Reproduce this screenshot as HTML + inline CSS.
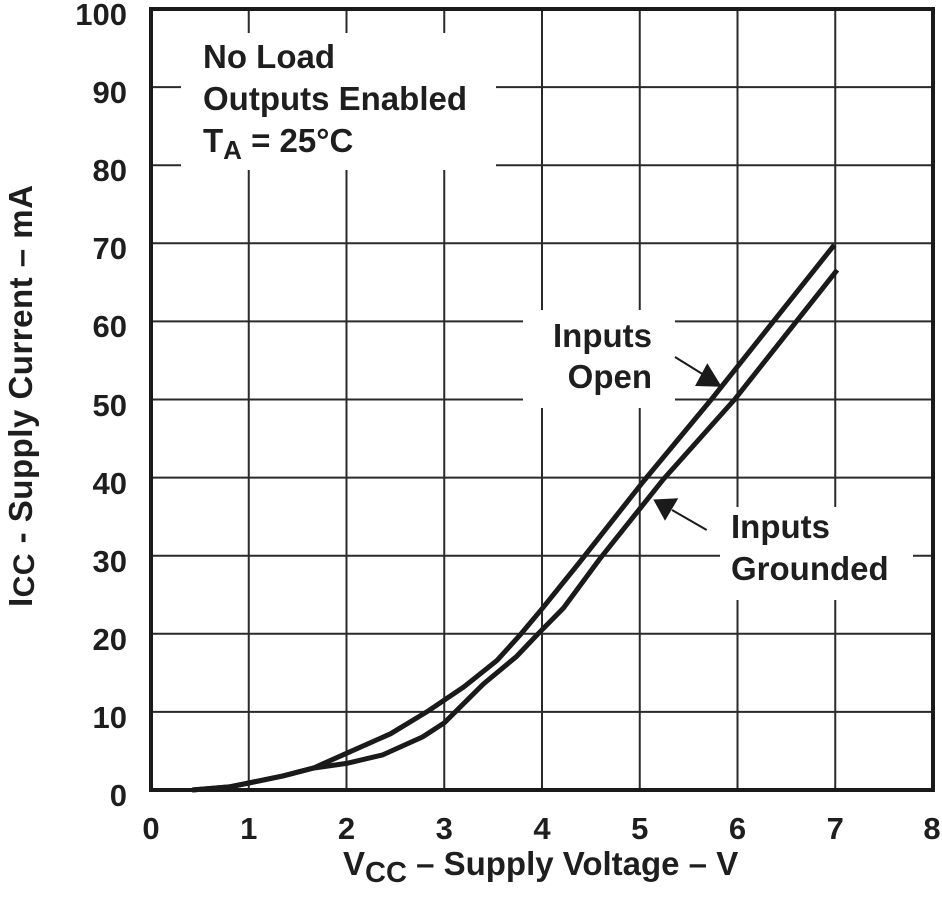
<!DOCTYPE html>
<html>
<head>
<meta charset="utf-8">
<style>
  html, body { margin: 0; padding: 0; background: #fff; }
  svg { display: block; }
  text { font-family: "Liberation Sans", Arial, sans-serif; font-weight: bold; fill: #1e1e1e; }
</style>
</head>
<body>
<svg width="942" height="898" viewBox="0 0 942 898" xmlns="http://www.w3.org/2000/svg">
  <rect x="0" y="0" width="942" height="898" fill="#fff"/>

  <!-- grid -->
  <g stroke="#2a2a2a" stroke-width="2" fill="none">
    <line x1="248.75" y1="9" x2="248.75" y2="790"/>
    <line x1="346.5" y1="9" x2="346.5" y2="790"/>
    <line x1="444.25" y1="9" x2="444.25" y2="790"/>
    <line x1="542" y1="9" x2="542" y2="790"/>
    <line x1="639.75" y1="9" x2="639.75" y2="790"/>
    <line x1="737.5" y1="9" x2="737.5" y2="790"/>
    <line x1="835.25" y1="9" x2="835.25" y2="790"/>

    <line x1="151" y1="711.9" x2="933" y2="711.9"/>
    <line x1="151" y1="633.8" x2="933" y2="633.8"/>
    <line x1="151" y1="555.7" x2="933" y2="555.7"/>
    <line x1="151" y1="477.6" x2="933" y2="477.6"/>
    <line x1="151" y1="399.5" x2="933" y2="399.5"/>
    <line x1="151" y1="321.4" x2="933" y2="321.4"/>
    <line x1="151" y1="243.3" x2="933" y2="243.3"/>
    <line x1="151" y1="165.2" x2="933" y2="165.2"/>
    <line x1="151" y1="87.1" x2="933" y2="87.1"/>
  </g>

  <!-- label masks -->
  <rect x="181" y="33" width="315" height="137" fill="#fff"/>
  <rect x="523" y="310" width="152" height="98" fill="#fff"/>
  <rect x="720" y="507" width="193" height="93" fill="#fff"/>

  <!-- curves -->
  <g stroke="#1a1a1a" stroke-width="5" fill="none" stroke-linejoin="round" stroke-linecap="butt">
    <!-- Inputs Open -->
    <polyline points="192.1,790 229.2,786.9 248.8,783.0 283.0,775.9 313.3,768.1 346.5,753.3 390.5,733.8 426.7,711.9 463.8,686.9 497.0,660.4 520.5,634.5 542.0,608.8 578.2,564 643.7,481 712.1,398.5 834.3,244.9"/>
    <!-- Inputs Grounded -->
    <polyline points="192.1,790 229.2,786.9 248.8,783 283,775.9 313.3,768.1 346.5,763.4 382.7,754.9 422.7,736.9 444.3,722.8 483.4,684.0 516.6,656.4 538.1,633.8 563.5,608 599.7,559 663.2,479.5 734.6,399.5 837.2,269.9"/>
  </g>

  <!-- arrows -->
  <g stroke="#1a1a1a" stroke-width="2">
    <line x1="675" y1="357" x2="704" y2="375"/>
    <line x1="706.7" y1="530" x2="672" y2="510"/>
  </g>
  <polygon points="707.3,363.3 695,386 721.7,386.7" fill="#1a1a1a"/>
  <polygon points="653.3,499.5 678.3,498.3 665,520.7" fill="#1a1a1a"/>

  <!-- frame -->
  <rect x="151" y="9" width="782" height="781" fill="none" stroke="#1a1a1a" stroke-width="4"/>

  <!-- y tick labels -->
  <g font-size="31" text-anchor="end">
    <text x="127" y="806">0</text>
    <text x="127" y="728">10</text>
    <text x="127" y="650">20</text>
    <text x="127" y="572">30</text>
    <text x="127" y="494">40</text>
    <text x="127" y="416">50</text>
    <text x="127" y="337">60</text>
    <text x="127" y="259">70</text>
    <text x="127" y="181">80</text>
    <text x="127" y="103">90</text>
    <text x="127" y="25">100</text>
  </g>

  <!-- x tick labels -->
  <g font-size="31" text-anchor="middle">
    <text x="151" y="839">0</text>
    <text x="248.75" y="839">1</text>
    <text x="346.5" y="839">2</text>
    <text x="444.25" y="839">3</text>
    <text x="542" y="839">4</text>
    <text x="639.75" y="839">5</text>
    <text x="737.5" y="839">6</text>
    <text x="835.25" y="839">7</text>
    <text x="932" y="839">8</text>
  </g>

  <!-- x axis title -->
  <text x="343" y="875" font-size="33">V<tspan font-size="29" dy="7">CC</tspan><tspan dy="-7"> – Supply Voltage – V</tspan></text>

  <!-- y axis title -->
  <text transform="translate(32,607) rotate(-90)" x="0" y="0" font-size="33" textLength="422" lengthAdjust="spacing">I<tspan font-size="30" dy="2">CC</tspan><tspan dy="-2"> - Supply Current – mA</tspan></text>

  <!-- conditions -->
  <g font-size="33">
    <text x="203" y="68">No Load</text>
    <text x="203" y="110">Outputs Enabled</text>
    <text x="203" y="152">T<tspan font-size="26" dy="7">A</tspan><tspan dy="-7"> = 25°C</tspan></text>
  </g>

  <!-- series labels -->
  <g font-size="33">
    <text x="652" y="347" text-anchor="end">Inputs</text>
    <text x="652" y="388" text-anchor="end">Open</text>
    <text x="731" y="538">Inputs</text>
    <text x="731" y="580">Grounded</text>
  </g>
</svg>
</body>
</html>
